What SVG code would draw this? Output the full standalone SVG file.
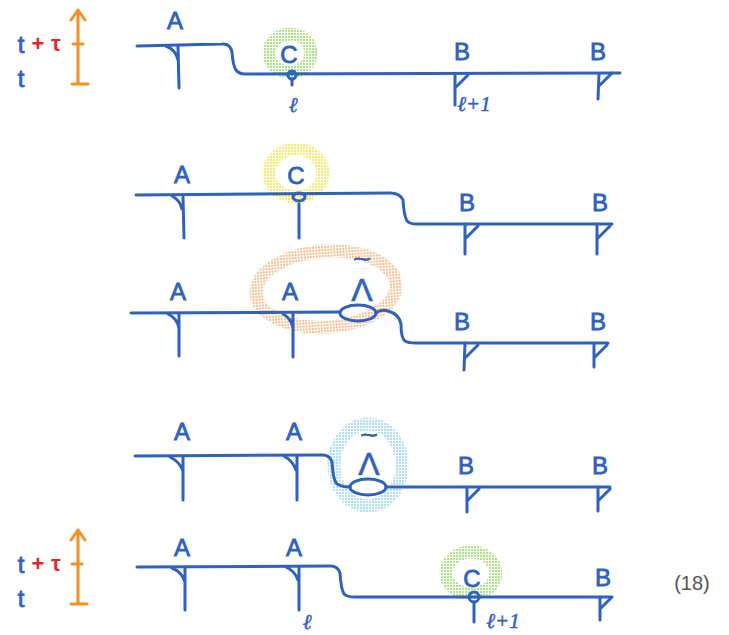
<svg xmlns="http://www.w3.org/2000/svg" width="729" height="635" viewBox="0 0 729 635">
<defs>
  <pattern id="pg" width="3" height="3" patternUnits="userSpaceOnUse"><rect width="2" height="2" fill="#8fdc5a"/></pattern>
  <pattern id="py" width="3" height="3" patternUnits="userSpaceOnUse"><rect width="2" height="2" fill="#f4e62a"/></pattern>
  <pattern id="po" width="3" height="3" patternUnits="userSpaceOnUse"><rect width="2" height="2" fill="#f7a869"/></pattern>
  <pattern id="pc" width="3" height="3" patternUnits="userSpaceOnUse"><rect width="2" height="2" fill="#8fd6f0"/></pattern>
</defs>
<style>
.ln{fill:none;stroke:#2f62bd;stroke-width:3;stroke-linecap:round;stroke-linejoin:round}
.ax{fill:none;stroke:#f7901e;stroke-width:3;stroke-linecap:round;stroke-linejoin:round}
.lb{font-family:"Liberation Sans",Arial,sans-serif;font-size:24px;fill:#2f62bd;stroke:#2f62bd;stroke-width:0.8;text-anchor:middle}
.tl{font-family:"Liberation Sans",Arial,sans-serif;font-size:32px;fill:#2f62bd;stroke:#2f62bd;stroke-width:0.6;text-anchor:middle}
.tt{font-family:"Liberation Sans",Arial,sans-serif;font-size:20px;fill:#2f62bd;stroke:#2f62bd;stroke-width:0.8;text-anchor:middle}
.sm{font-family:"Liberation Serif","Times New Roman",serif;font-style:italic;font-size:21px;fill:#2f62bd;stroke:#2f62bd;stroke-width:0.5;text-anchor:middle}
.rd{font-family:"Liberation Sans",Arial,sans-serif;font-size:22px;fill:#e8262c;text-anchor:middle;font-weight:bold}
.eq{font-family:"Liberation Sans",Arial,sans-serif;font-size:20px;fill:#555;text-anchor:middle}
.h{fill:none;stroke-width:13;opacity:0.75}
</style>

<!-- Row 1 -->
<g id="row1">
  <g id="axis1">
    <path class="ax" d="M78,84 L78,12 M71,20 L78,10 L85,20 M72,84 L88,84 M73,44 L83,44"/>
    <text class="lb" x="21" y="53">t</text>
    <text class="rd" x="38" y="51">+</text>
    <text class="rd" x="56" y="51">τ</text>
    <text class="lb" x="21" y="87">t</text>
  </g>
  <ellipse class="h" stroke="url(#pg)" cx="290" cy="53" rx="21" ry="19"/>
  <path class="ln" d="M137,46 L222,44 Q230,43 232,52 Q233,66 236,70 Q239,74 245,74 L620,73"/>
  <g id="r1-A"><path class="ln" d="M166,46 Q176,50 178,60 M178,46 L179,88"/><text class="lb" x="175" y="29">A</text></g>
  <g id="r1-C"><circle class="ln" cx="292" cy="75" r="4" fill="#fff"/><path class="ln" d="M292,79 L292,85"/><text class="lb" x="289" y="63">C</text><text class="sm" x="293" y="112">ℓ</text></g>
  <g id="r1-B1"><path class="ln" d="M455,74 L455,105 M468,75 L456,87"/><text class="lb" x="462" y="60">B</text><text class="sm" x="474" y="111">ℓ+1</text></g>
  <g id="r1-B2"><path class="ln" d="M599,74 L598,99 M612,73 L600,85"/><text class="lb" x="598" y="60">B</text></g>
</g>

<!-- Row 2 -->
<g id="row2">
  <ellipse class="h" stroke="url(#py)" cx="296" cy="173" rx="27" ry="24"/>
  <path class="ln" d="M136,195 L390,193 Q400,193 403,200 Q404,216 407,221 Q410,224 416,224 L612,224"/>
  <g id="r2-A"><path class="ln" d="M172,196 Q180,200 182,209 M183,197 L184,238"/><text class="lb" x="182" y="183">A</text></g>
  <g id="r2-C"><ellipse class="ln" cx="299" cy="197" rx="6" ry="4" fill="#fff"/><path class="ln" d="M299,204 L299,238"/><text class="lb" x="296" y="184">C</text></g>
  <g id="r2-B1"><path class="ln" d="M465,224 L465,254 M478,226 L466,238"/><text class="lb" x="467" y="211">B</text></g>
  <g id="r2-B2"><path class="ln" d="M597,224 L597,254 M610,226 L598,238"/><text class="lb" x="600" y="211">B</text></g>
</g>

<!-- Row 3 -->
<g id="row3">
  <ellipse class="h" stroke="url(#po)" cx="326" cy="289" rx="70" ry="38" transform="rotate(-4 326 289)"/>
  <path class="ln" d="M131,313 L340,312"/>
  <ellipse class="ln" cx="358" cy="313" rx="18" ry="8"/>
  <path class="ln" d="M376,313 Q381,309 388,311 Q399,314 401,324 Q401,338 405,341 Q408,343 416,343 L608,343"/>
  <g id="r3-A1"><path class="ln" d="M168,314 Q177,318 179,328 M179,314 L179,356"/><text class="lb" x="178" y="300">A</text></g>
  <g id="r3-A2"><path class="ln" d="M283,314 Q291,318 293,328 M293,314 L293,357"/><text class="lb" x="290" y="300">A</text></g>
  <g id="r3-L"><text class="tt" x="362" y="266" transform="translate(362 0) scale(1.5 1) translate(-362 0)">~</text><text class="tl" x="362" y="301">Λ</text></g>
  <g id="r3-B1"><path class="ln" d="M465,343 L464,370 M478,345 L466,357"/><text class="lb" x="462" y="330">B</text></g>
  <g id="r3-B2"><path class="ln" d="M594,343 L594,367 M607,345 L595,357"/><text class="lb" x="598" y="330">B</text></g>
</g>

<!-- Row 4 -->
<g id="row4">
  <ellipse class="h" stroke="url(#pc)" cx="368" cy="465" rx="34" ry="41"/>
  <path class="ln" d="M135,456 L322,455 Q330,455 332,462 Q333,478 336,483 Q340,487 350,487"/>
  <ellipse class="ln" cx="368" cy="487" rx="18" ry="8"/>
  <path class="ln" d="M386,487 L610,487"/>
  <g id="r4-A1"><path class="ln" d="M170,457 Q180,462 183,471 M183,457 L183,500"/><text class="lb" x="182" y="440">A</text></g>
  <g id="r4-A2"><path class="ln" d="M284,456 Q293,461 296,470 M297,456 L297,500"/><text class="lb" x="294" y="440">A</text></g>
  <g id="r4-L"><text class="tt" x="369" y="442" transform="translate(369 0) scale(1.5 1) translate(-369 0)">~</text><text class="tl" x="369" y="475">Λ</text></g>
  <g id="r4-B1"><path class="ln" d="M467,487 L467,512 M479,489 L468,500"/><text class="lb" x="466" y="474">B</text></g>
  <g id="r4-B2"><path class="ln" d="M598,487 L598,511 M610,489 L599,500"/><text class="lb" x="600" y="474">B</text></g>
</g>

<!-- Row 5 -->
<g id="row5">
  <g id="axis2">
    <path class="ax" d="M78,604 L78,532 M71,540 L78,530 L85,540 M71,604 L87,604 M72,564 L82,564"/>
    <text class="lb" x="21" y="573">t</text>
    <text class="rd" x="38" y="571">+</text>
    <text class="rd" x="56" y="571">τ</text>
    <text class="lb" x="21" y="607">t</text>
  </g>
  <ellipse class="h" stroke="url(#pg)" cx="471" cy="573" rx="25" ry="21"/>
  <path class="ln" d="M137,567 L330,566 Q338,566 340,573 Q341,589 344,594 Q347,597 355,597 L612,597"/>
  <g id="r5-A1"><path class="ln" d="M172,568 Q182,572 185,582 M185,568 L185,610"/><text class="lb" x="182" y="556">A</text></g>
  <g id="r5-A2"><path class="ln" d="M286,567 Q295,571 298,580 M299,567 L299,610"/><text class="lb" x="294" y="556">A</text><text class="sm" x="307" y="629">ℓ</text></g>
  <g id="r5-C"><circle class="ln" cx="474" cy="597" r="5" fill="#fff"/><path class="ln" d="M474,602 L474,622"/><text class="lb" x="472" y="587">C</text><text class="sm" x="503" y="628">ℓ+1</text></g>
  <g id="r5-B"><path class="ln" d="M600,597 L600,620 M611,598 L601,608"/><text class="lb" x="603" y="586">B</text></g>
  <text class="eq" x="692" y="590">(18)</text>
</g>
</svg>
